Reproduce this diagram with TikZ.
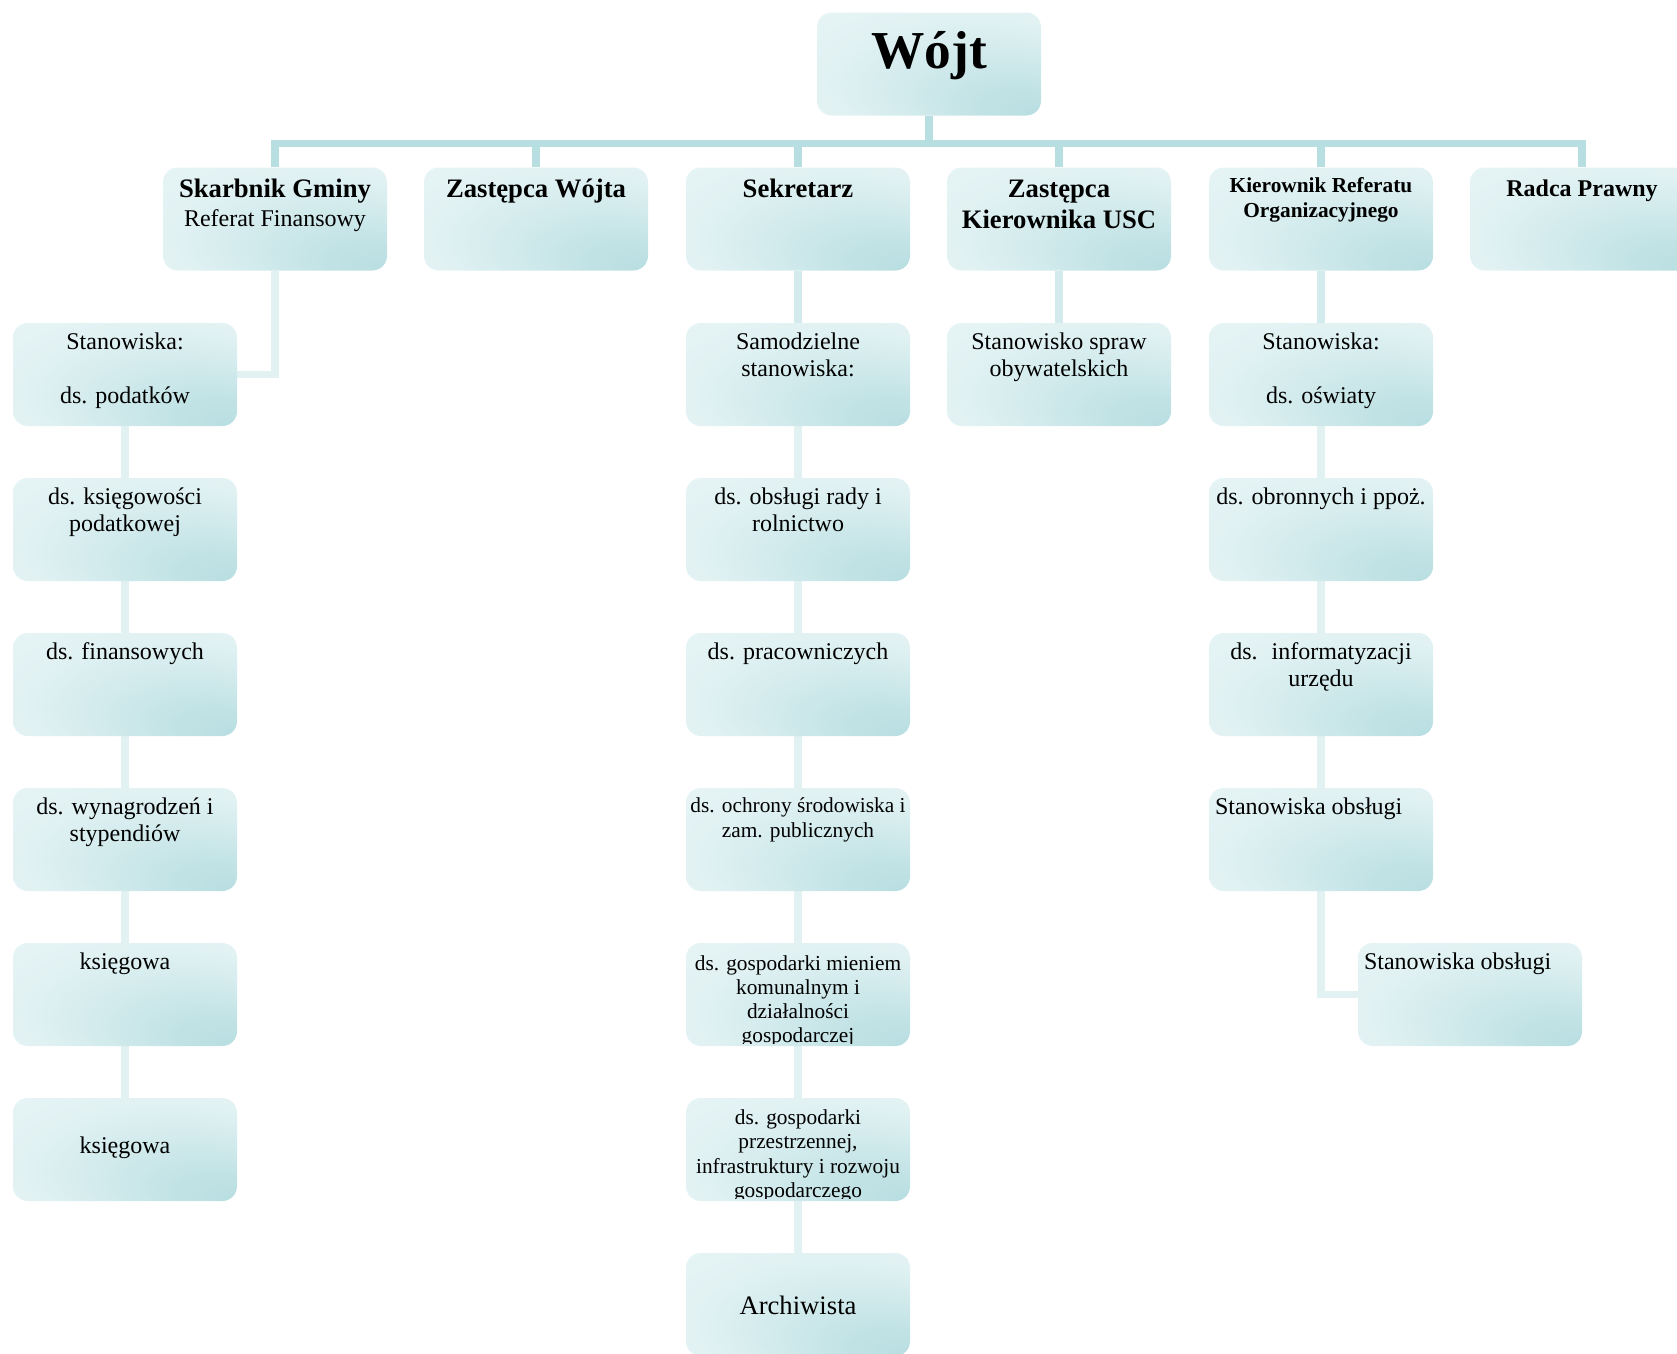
\documentclass[tikz,border=0pt]{standalone}
\usepackage{fontspec}
\setmainfont{Liberation Serif}
\usetikzlibrary{calc,backgrounds}
\definecolor{boxlight}{HTML}{E6F4F5}
\definecolor{boxdark}{HTML}{B8DEE1}
\definecolor{busc}{HTML}{B7DEE1}
\definecolor{lnA}{HTML}{D3EBED}
\definecolor{lnB}{HTML}{E2F2F3}
\pgfdeclareradialshading{cornershade}{\pgfpoint{25bp}{-25bp}}{%
  color(0bp)=(boxdark); color(9bp)=(boxdark!80!boxlight); color(20bp)=(boxdark!45!boxlight);
  color(32bp)=(boxdark!10!boxlight); color(42bp)=(boxlight); color(50bp)=(boxlight)}
\newcommand\fntR{\fontsize{18}{20.25}\selectfont\mdseries}
\newcommand\fntB{\fontsize{20}{23.25}\selectfont\bfseries}
\newcommand\fntS{\fontsize{16}{18.2}\selectfont\mdseries}
\newcommand\fntK{\fontsize{16}{18.75}\selectfont\bfseries}
\newcommand\fntP{\fontsize{18}{20.25}\selectfont\bfseries}
\newcommand\fntW{\fontsize{40}{48}\selectfont\bfseries}
\newcommand\fntA{\fontsize{20}{24}\selectfont\mdseries}
\begin{document}
\begin{tikzpicture}[x=0.75pt,y=-0.75pt,
  box/.style={rectangle, rounded corners=11pt, minimum width=168pt, minimum height=77.25pt, inner sep=0pt,
    shade, shading=cornershade},
  txt/.style={anchor=north, inner sep=0pt, align=center, text=black},
  bus/.style={draw=busc, line width=5.6pt},
  linkA/.style={draw=lnA, line width=5.6pt},
  linkB/.style={draw=lnB, line width=5.6pt}]
\useasboundingbox (0,0) rectangle (1677,1353);
\coordinate (busY) at (0,143.5);

% top
\node[box] (wojt) at (929,64) {};
\node[anchor=base, inner sep=0pt, font=\fntW] (wojtT) at (929,68) {Wójt};

% level 1
\node[box] (skarb) at (275,219) {};
\node[box] (zw) at (536,219) {};
\node[box] (sek) at (798,219) {};
\node[box] (usc) at (1059,219) {};
\node[box] (kier) at (1321,219) {};
\node[box] (radca) at (1582,219) {};
\node[txt, font=\fntB] (skarbT) at ($(skarb.north)+(0,8.3)$) {\strut Skarbnik Gminy\\[-1.5pt]{\fntR Referat Finansowy}};
\node[txt, font=\fntB] (zwT) at ($(zw.north)+(0,8.3)$) {\strut Zastępca Wójta};
\node[txt, font=\fntB] (sekT) at ($(sek.north)+(0,8.3)$) {\strut Sekretarz};
\node[txt, font=\fntB] (uscT) at ($(usc.north)+(0,8.3)$) {\strut Zastępca\\Kierownika USC};
\node[txt, font=\fntK] (kierT) at ($(kier.north)+(0,7.5)$) {\strut Kierownik Referatu\\Organizacyjnego};
\node[txt, font=\fntP] (radcaT) at ($(radca.north)+(0,10)$) {\strut Radca Prawny};

% left column
\node[box] (l2) at (125,374.5) {};
\node[box] (l3) at (125,529.5) {};
\node[box] (l4) at (125,684.5) {};
\node[box] (l5) at (125,839.5) {};
\node[box] (l6) at (125,994.5) {};
\node[box] (l7) at (125,1149.5) {};
\node[txt, font=\fntR] (l2T) at ($(l2.north)+(0,8)$) {\strut Stanowiska:\\[\baselineskip]ds. podatków};
\node[txt, font=\fntR] (l3T) at ($(l3.north)+(0,8)$) {\strut ds. księgowości\\podatkowej};
\node[txt, font=\fntR] (l4T) at ($(l4.north)+(0,8)$) {\strut ds. finansowych};
\node[txt, font=\fntR] (l5T) at ($(l5.north)+(0,8)$) {\strut ds. wynagrodzeń i\\stypendiów};
\node[txt, font=\fntR] (l6T) at ($(l6.north)+(0,8)$) {\strut księgowa};
\node[anchor=base, inner sep=0pt, font=\fntR] (l7T) at (125,1153) {księgowa};

% middle column
\node[box] (m2) at (798,374.5) {};
\node[box] (m3) at (798,529.5) {};
\node[box] (m4) at (798,684.5) {};
\node[box] (m5) at (798,839.5) {};
\node[box] (m6) at (798,994.5) {};
\node[box] (m7) at (798,1149.5) {};
\node[box] (m8) at (798,1304.5) {};
\node[txt, font=\fntR] (m2T) at ($(m2.north)+(0,8)$) {\strut Samodzielne\\stanowiska:};
\node[txt, font=\fntR] (m3T) at ($(m3.north)+(0,8)$) {\strut ds. obsługi rady i\\rolnictwo};
\node[txt, font=\fntR] (m4T) at ($(m4.north)+(0,8)$) {\strut ds. pracowniczych};
\node[txt, font=\fntS] (m5T) at ($(m5.north)+(0,8)$) {\strut ds. ochrony środowiska i\\zam. publicznych};
\begin{scope}
  \clip ($(m6.south west)+(0,-3)$) rectangle (m6.north east);
  \node[txt, font=\fntS] (m6T) at ($(m6.north)+(0,10)$) {\strut ds. gospodarki mieniem\\komunalnym i\\działalności\\gospodarczej};
\end{scope}
\begin{scope}
  \clip ($(m7.south west)+(0,-3)$) rectangle (m7.north east);
  \node[txt, font=\fntS] (m7T) at ($(m7.north)+(0,9.5)$) {\strut ds. gospodarki\\przestrzennej,\\infrastruktury i rozwoju\\gospodarczego};
\end{scope}
\node[anchor=base, inner sep=0pt, font=\fntA] (m8T) at (798,1314) {Archiwista};

% USC column
\node[box] (u2) at (1059,374.5) {};
\node[txt, font=\fntR] (u2T) at ($(u2.north)+(0,8)$) {\strut Stanowisko spraw\\obywatelskich};

% Kierownik column
\node[box] (k2) at (1321,374.5) {};
\node[box] (k3) at (1321,529.5) {};
\node[box] (k4) at (1321,684.5) {};
\node[box] (k5) at (1321,839.5) {};
\node[box] (k6) at (1470,994.5) {};
\node[txt, font=\fntR] (k2T) at ($(k2.north)+(0,8)$) {\strut Stanowiska:\\[\baselineskip]ds. oświaty};
\node[txt, font=\fntR] (k3T) at ($(k3.north)+(0,8)$) {\strut ds. obronnych i ppoż.};
\node[txt, font=\fntR] (k4T) at ($(k4.north)+(0,8)$) {\strut ds.~ informatyzacji\\urzędu};
\node[txt, font=\fntR, anchor=north west] (k5T) at ($(k5.north west)+(6,8)$) {\strut Stanowiska obsługi};
\node[txt, font=\fntR, anchor=north west] (k6T) at ($(k6.north west)+(6,8)$) {\strut Stanowiska obsługi};

% connectors
\begin{scope}[on background layer]
  \draw[bus] (wojt.south) -- (wojt.south |- busY);
  \draw[bus] (skarb.north) |- (busY -| radca.north) -- (radca.north);
  \draw[bus] (zw.north) -- (zw.north |- busY);
  \draw[bus] (sek.north) -- (sek.north |- busY);
  \draw[bus] (usc.north) -- (usc.north |- busY);
  \draw[bus] (kier.north) -- (kier.north |- busY);

  \draw[linkB] (skarb.south) |- (l2.east);
  \draw[linkB] (l2.south) -- (l3.north);
  \draw[linkB] (l3.south) -- (l4.north);
  \draw[linkB] (l4.south) -- (l5.north);
  \draw[linkB] (l5.south) -- (l6.north);
  \draw[linkB] (l6.south) -- (l7.north);

  \draw[linkA] (sek.south) -- (m2.north);
  \draw[linkB] (m2.south) -- (m3.north);
  \draw[linkB] (m3.south) -- (m4.north);
  \draw[linkB] (m4.south) -- (m5.north);
  \draw[linkB] (m5.south) -- (m6.north);
  \draw[linkB] (m6.south) -- (m7.north);
  \draw[linkB] (m7.south) -- (m8.north);

  \draw[linkA] (usc.south) -- (u2.north);

  \draw[linkA] (kier.south) -- (k2.north);
  \draw[linkB] (k2.south) -- (k3.north);
  \draw[linkB] (k3.south) -- (k4.north);
  \draw[linkB] (k4.south) -- (k5.north);
  \draw[linkB] (k5.south) |- (k6.west);
\end{scope}
\end{tikzpicture}
\end{document}
